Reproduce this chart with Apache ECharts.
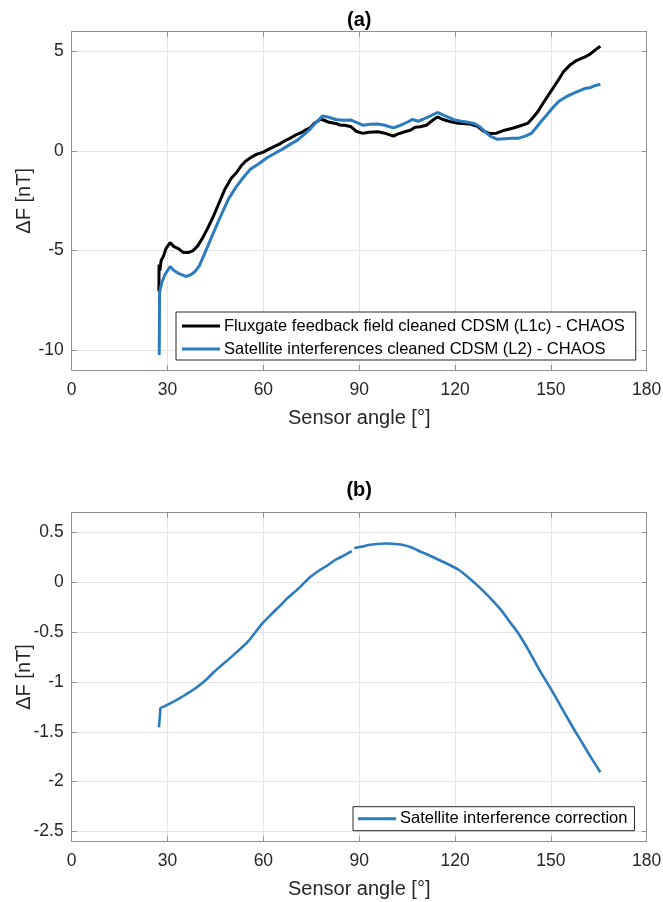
<!DOCTYPE html>
<html>
<head>
<meta charset="utf-8">
<script src="https://cdn.jsdelivr.net/npm/echarts@6/dist/echarts.min.js"></script>
<style>
html,body{margin:0;padding:0;background:#fff;}
#chart{width:663px;height:902px;}
</style>
</head>
<body>
<div id="chart"></div>
<script>
// ---- Data ----
const l1cAngles = [27.3,27.35,27.6,28.0,28.7,29.5,30.8,32,33.4,35,36.5,38,39.5,41.2,42.8,44.3,46.4,48,50,51.5,53,54.5,56.3,58,60,61.1,63,65,66.5,68.3,70,71.5,73.1,74.5,76,77.9,79,80.5,82.7,84,85.5,87.5,89,91.1,93,95.9,98,100.7,102,104.3,106,107.5,109.1,111,113,114.5,116,118.7,121,124.7,127,129,130.7,133,135.5,138,140,142.7,144.5,146,147.5,150,152.3,154,155.9,158,160.7,162.5,164,165.5];
const l1cValues = [-7.05,-5.7,-6.0,-5.5,-5.3,-4.9,-4.6,-4.8,-4.9,-5.1,-5.1,-5.0,-4.75,-4.3,-3.8,-3.3,-2.5,-1.9,-1.35,-1.1,-0.75,-0.5,-0.3,-0.15,-0.05,0.05,0.2,0.35,0.5,0.64,0.8,0.9,1.05,1.15,1.4,1.6,1.55,1.45,1.39,1.3,1.3,1.22,1.0,0.89,0.95,0.97,0.9,0.75,0.85,0.97,1.05,1.2,1.22,1.3,1.55,1.72,1.6,1.47,1.4,1.36,1.25,1.0,0.89,0.9,1.05,1.15,1.25,1.39,1.7,2.0,2.39,3.0,3.56,4.0,4.31,4.55,4.73,4.9,5.1,5.27];

const l2Angles = [27.4,27.45,27.5,28.2,29.2,30.8,32,33.4,35,36,37.5,38.6,40,41.2,42.8,44.3,46,47.5,49.1,51.5,53.9,56,58.7,61,63.5,66,68.5,70.7,72.5,74.3,76,78.5,80.5,82.7,85,87.5,89,91.1,93.5,95.9,98,100.7,103,105,106.7,108.5,110,112,114.5,116.5,118,119.9,122,124,125.9,127.5,129.5,131,133.1,135.5,137.9,140,142,143.9,145.5,147,148.7,151,152.5,154.7,157,158.5,160.7,162.5,164,165.5];
const l2Values = [-10.25,-9.0,-7.1,-6.6,-6.2,-5.8,-6.0,-6.14,-6.25,-6.3,-6.2,-6.05,-5.75,-5.3,-4.7,-4.13,-3.5,-2.96,-2.4,-1.8,-1.29,-0.9,-0.62,-0.35,-0.12,0.1,0.35,0.55,0.8,1.05,1.35,1.76,1.7,1.59,1.55,1.56,1.45,1.3,1.35,1.36,1.3,1.17,1.3,1.45,1.59,1.5,1.6,1.75,1.94,1.8,1.7,1.56,1.5,1.45,1.39,1.25,0.97,0.75,0.6,0.62,0.64,0.65,0.75,0.89,1.2,1.5,1.81,2.25,2.5,2.72,2.9,3.0,3.15,3.2,3.3,3.36];

const corrAngles = [27.3,27.5,27.7,27.8,29,30.5,32.3,34,36,38.3,40.5,42.5,44.5,47,49.1,52,55,57.5,59.9,62.5,65,67.5,70,72,74.3,77,80,82,84,86,87.7,88.1,88.5,91,93,95.5,98.3,100.5,103,106,109.1,112,115,118,121.1,124,127,130.5,134.3,137,140,143,146.3,150,152.5,155,157.5,160,162.5,165.5];
const corrValues = [-1.456,-1.38,-1.3,-1.263,-1.245,-1.22,-1.19,-1.16,-1.12,-1.073,-1.02,-0.965,-0.9,-0.83,-0.773,-0.69,-0.6,-0.5,-0.405,-0.32,-0.24,-0.16,-0.09,-0.03,0.044,0.11,0.17,0.215,0.25,0.285,0.315,null,0.344,0.36,0.375,0.385,0.39,0.388,0.38,0.355,0.31,0.27,0.225,0.18,0.127,0.055,-0.03,-0.14,-0.273,-0.39,-0.52,-0.68,-0.873,-1.07,-1.21,-1.35,-1.49,-1.62,-1.755,-1.906];

const xTicks = [0,30,60,90,120,150,180];
const yTicksA = [-10,-5,0,5];
const yTicksB = [-2.5,-2,-1.5,-1,-0.5,0,0.5];

const seriesNames = [
  'Fluxgate feedback field cleaned CDSM (L1c) - CHAOS',
  'Satellite interferences cleaned CDSM (L2) - CHAOS',
  'Satellite interference correction'
];

function zip(a, b){ return a.map((x,i)=>[x,b[i]]); }

// ---- Styling ----
const FONT = '"Liberation Sans", Arial, Helvetica, sans-serif';
const AXIS_COLOR = '#8f8f8f';
const TEXT_COLOR = '#262626';
const GRID_COLOR = '#e4e4e4';
const BLUE = '#2b7bbf';

const grids = [
  {left: 71.7, right: 16.3, top: 31.7, height: 338.3, outerBoundsMode:'none', containLabel:false},
  {left: 71.7, right: 16.3, top: 512.7, height: 328.6, outerBoundsMode:'none', containLabel:false}
];

function xMain(gi){
  return {
    type:'value', gridIndex:gi, position:'bottom', min:0, max:180, interval:30,
    axisLine:{show:true, onZero:false, lineStyle:{color:AXIS_COLOR, width:1}},
    axisTick:{show:true, inside:true, length:5, lineStyle:{color:AXIS_COLOR}},
    axisLabel:{show:true, color:TEXT_COLOR, fontSize:17.5, fontFamily:FONT, margin:11},
    splitLine:{show:true, lineStyle:{color:GRID_COLOR, width:1}},
    name:'Sensor angle [°]', nameLocation:'middle', nameGap:38, nameMoveOverlap:false,
    nameTextStyle:{color:TEXT_COLOR, fontSize:20, fontFamily:FONT}
  };
}
function xTop(gi){
  return {
    type:'value', gridIndex:gi, position:'top', min:0, max:180, interval:30,
    axisLine:{show:true, onZero:false, lineStyle:{color:AXIS_COLOR, width:1}},
    axisTick:{show:true, inside:true, length:5, lineStyle:{color:AXIS_COLOR}},
    axisLabel:{show:false}, splitLine:{show:false}
  };
}
function yMain(gi, min, max, ticks){
  return {
    type:'value', gridIndex:gi, position:'left', min:min, max:max,
    axisLine:{show:true, onZero:false, lineStyle:{color:AXIS_COLOR, width:1}},
    axisTick:{show:true, inside:true, length:5, lineStyle:{color:AXIS_COLOR}, customValues:ticks},
    axisLabel:{show:true, color:TEXT_COLOR, fontSize:17.5, fontFamily:FONT, margin:8, customValues:ticks},
    splitLine:{show:true, lineStyle:{color:GRID_COLOR, width:1}},
    name:'ΔF [nT]', nameLocation:'middle', nameGap:37, nameRotate:90, nameMoveOverlap:false,
    nameTextStyle:{color:TEXT_COLOR, fontSize:20, fontFamily:FONT}
  };
}
function yRight(gi, min, max, ticks){
  return {
    type:'value', gridIndex:gi, position:'right', min:min, max:max,
    axisLine:{show:true, onZero:false, lineStyle:{color:AXIS_COLOR, width:1}},
    axisTick:{show:true, inside:true, length:5, lineStyle:{color:AXIS_COLOR}, customValues:ticks},
    axisLabel:{show:false, customValues:ticks}, splitLine:{show:false}
  };
}

const option = {
  animation:false,
  backgroundColor:'#fff',
  textStyle:{fontFamily:FONT},
  title:[
    {text:'(a)', left:359.2, top:8, textAlign:'center', padding:0,
     textStyle:{fontSize:20, fontWeight:'bold', color:'#000', fontFamily:FONT, lineHeight:24}},
    {text:'(b)', left:359.2, top:478, textAlign:'center', padding:0,
     textStyle:{fontSize:20, fontWeight:'bold', color:'#000', fontFamily:FONT, lineHeight:24}}
  ],
  grid:grids,
  xAxis:[xMain(0), xTop(0), xMain(1), xTop(1)],
  yAxis:[yMain(0,-11,6,yTicksA), yRight(0,-11,6,yTicksA), yMain(1,-2.6,0.7,yTicksB), yRight(1,-2.6,0.7,yTicksB)],
  legend:[
    {data:[seriesNames[0], seriesNames[1]], orient:'vertical', left:176, top:312,
     padding:[4,11,1,6], itemGap:3, itemWidth:38, itemHeight:3, icon:'rect',
     backgroundColor:'#fff', borderColor:'#262626', borderWidth:1, borderRadius:0,
     selectedMode:false,
     textStyle:{color:'#000', fontSize:16.5, fontFamily:FONT, lineHeight:20, padding:[0,0,0,-1]}},
    {data:[seriesNames[2]], orient:'vertical', left:353, top:806.7,
     padding:[2,7,2,5], itemWidth:38, itemHeight:3, icon:'rect',
     backgroundColor:'#fff', borderColor:'#262626', borderWidth:1, borderRadius:0,
     selectedMode:false,
     textStyle:{color:'#000', fontSize:16.5, fontFamily:FONT, lineHeight:20, padding:[0,0,0,-1]}}
  ],
  series:[
    {name:seriesNames[0], type:'line', xAxisIndex:0, yAxisIndex:0, data:zip(l1cAngles,l1cValues),
     showSymbol:false, symbol:'none', color:'#000', lineStyle:{color:'#000', width:3}},
    {name:seriesNames[1], type:'line', xAxisIndex:0, yAxisIndex:0, data:zip(l2Angles,l2Values),
     showSymbol:false, symbol:'none', color:BLUE, lineStyle:{color:BLUE, width:3}},
    {name:seriesNames[2], type:'line', xAxisIndex:2, yAxisIndex:2, data:zip(corrAngles,corrValues),
     showSymbol:false, symbol:'none', connectNulls:false, smooth:0.25, color:BLUE, lineStyle:{color:BLUE, width:2.6}}
  ]
};

const chart = echarts.init(document.getElementById('chart'), null, {renderer:'canvas'});
chart.setOption(option);
</script>
</body>
</html>
